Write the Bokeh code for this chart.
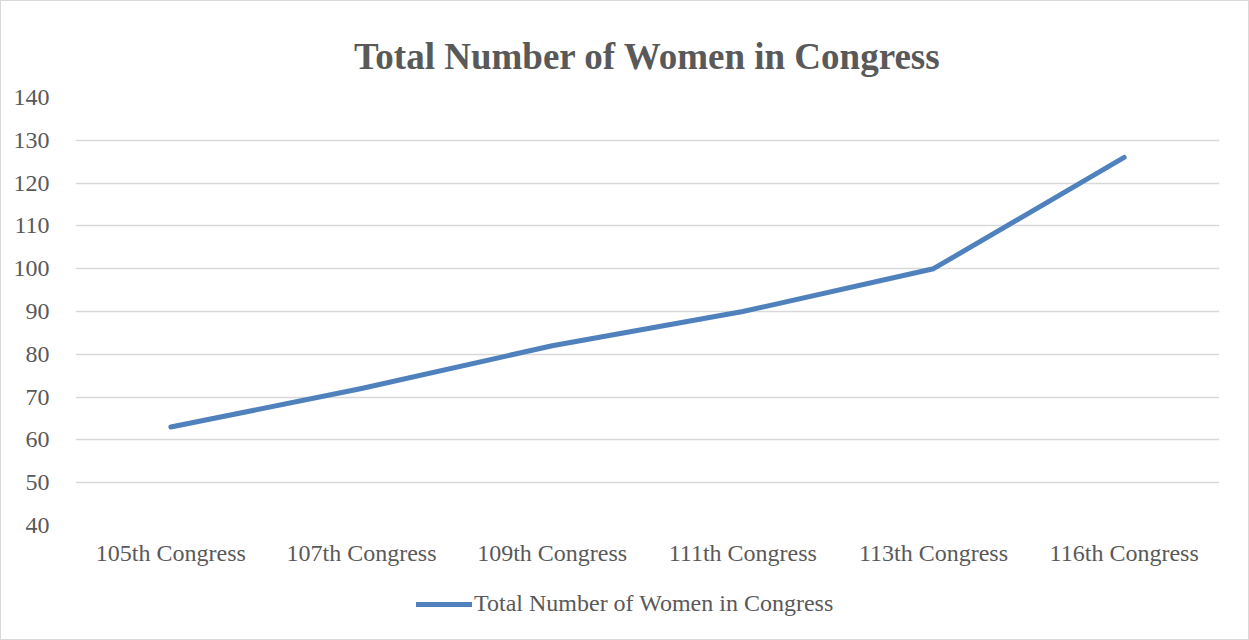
from bokeh.plotting import figure
from bokeh.layouts import column
from bokeh.models import Range1d, FactorRange, SingleIntervalTicker, Legend, LegendItem
from bokeh.embed import file_html
from bokeh.resources import INLINE

categories = ["105th Congress", "107th Congress", "109th Congress", "111th Congress", "113th Congress", "116th Congress"]
women = [63, 72, 82, 90, 100, 126]
series_name = "Total Number of Women in Congress"

FONT = "Liberation Serif"
GREY = "#595959"
LINE = "#4f81bd"

p = figure(width=1247, height=579, x_range=FactorRange(*categories), y_range=Range1d(40, 140),
           output_backend="svg", toolbar_location=None,
           min_border_left=74, min_border_right=29, min_border_top=96, min_border_bottom=55)

p.title.text = "Total Number of Women in Congress"
p.title.align = "center"
p.title.vertical_align = "middle"
p.title.text_font = FONT
p.title.text_font_size = "37px"
p.title.text_font_style = "bold"
p.title.text_color = GREY
p.title.standoff = 40

r = p.line(x=categories, y=women, line_color=LINE, line_width=5, line_cap="round", line_join="round")

p.yaxis.ticker = SingleIntervalTicker(interval=10)
for ax in (p.xaxis, p.yaxis):
    ax.axis_line_color = None
    ax.major_tick_line_color = None
    ax.minor_tick_line_color = None
    ax.major_label_text_font = FONT
    ax.major_label_text_font_size = "24px"
    ax.major_label_text_color = GREY
p.yaxis.major_label_standoff = 20
p.xaxis.major_label_standoff = 8

p.xgrid.grid_line_color = None
p.ygrid.grid_line_color = "#d9d9d9"
p.ygrid.grid_line_width = 1.5
p.outline_line_color = None

# legend strip below the chart
q = figure(width=1247, height=59, x_range=FactorRange(*categories), y_range=Range1d(0, 1),
           output_backend="svg", toolbar_location=None, min_border=0)
q.axis.visible = False
q.grid.grid_line_color = None
q.outline_line_color = None
lr = q.line(x=categories, y=women, line_color=LINE, line_width=5, line_cap="round", visible=False)
legend = Legend(items=[LegendItem(label=series_name, renderers=[lr])], orientation="horizontal",
                location=(341, 22), label_text_font=FONT, label_text_font_size="24px",
                label_text_color=GREY, border_line_color=None, background_fill_alpha=0,
                inactive_fill_alpha=0, glyph_width=56, label_standoff=2, margin=0, padding=4)
q.add_layout(legend, "center")

layout = column(p, q, spacing=0, styles={"border": "1px solid #d9d9d9"})
open("out.html", "w").write(file_html(layout, INLINE))
